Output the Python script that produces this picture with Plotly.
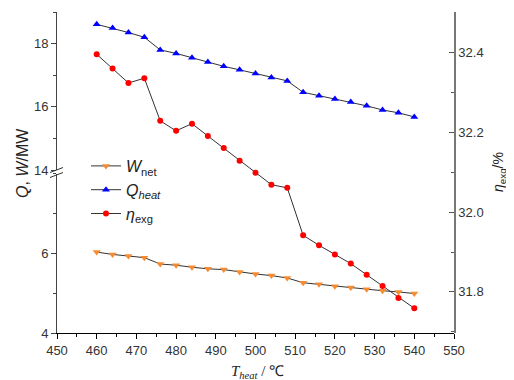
import plotly.graph_objects as go

T_heat = [460, 464, 468, 472, 476, 480, 484, 488, 492, 496, 500,
          504, 508, 512, 516, 520, 524, 528, 532, 536, 540]
W_net = [6.03, 5.97, 5.93, 5.89, 5.73, 5.70, 5.65, 5.61, 5.59, 5.53, 5.48,
         5.44, 5.38, 5.26, 5.22, 5.17, 5.14, 5.10, 5.06, 5.03, 4.99]
Q_heat = [18.61, 18.49, 18.35, 18.20, 17.80, 17.69, 17.55, 17.42, 17.28, 17.17, 17.05,
          16.93, 16.82, 16.46, 16.35, 16.25, 16.15, 16.03, 15.90, 15.81, 15.68]
eta_exg = [32.396, 32.360, 32.324, 32.336, 32.229, 32.204, 32.222, 32.191, 32.161, 32.129, 32.099,
           32.069, 32.061, 31.942, 31.917, 31.894, 31.871, 31.843, 31.815, 31.785, 31.759]

W, H = 514, 380
OFF = 8  # page body margin
L, R, TOP, BOT = 57, 454, 12, 333
PW, PH = R - L, BOT - TOP


def px(x):
    return (x - L) / PW


def py(y):
    return (BOT - y) / PH


LINE = "#333333"
fig = go.Figure()
fig.add_trace(go.Scatter(x=T_heat, y=W_net, mode="lines+markers", name="<i>W</i><sub>net</sub>",
                         line=dict(color=LINE, width=1),
                         marker=dict(symbol="triangle-down", size=7, color="#F58C33"),
                         xaxis="x", yaxis="y"))
fig.add_trace(go.Scatter(x=T_heat, y=Q_heat, mode="lines+markers", name="<i>Q</i><sub><i>heat</i></sub>",
                         line=dict(color=LINE, width=1),
                         marker=dict(symbol="triangle-up", size=7, color="#0000FF"),
                         xaxis="x", yaxis="y2"))
fig.add_trace(go.Scatter(x=T_heat, y=eta_exg, mode="lines+markers", name="<i>η</i><sub>exg</sub>",
                         line=dict(color=LINE, width=1),
                         marker=dict(symbol="circle", size=6, color="#FF0000"),
                         xaxis="x", yaxis="y3"))

tickfont = dict(family="Liberation Sans, Arial", size=13, color="#333333")
lower_top = 173.5
upper_bot = 170

fig.update_layout(
    width=W, height=H,
    margin=dict(l=L - OFF, r=W - (R - OFF), t=TOP - OFF, b=H - (BOT - OFF), autoexpand=False),
    paper_bgcolor="white", plot_bgcolor="rgba(0,0,0,0)",
    showlegend=True,
    legend=dict(x=px(86), y=py(149), xanchor="left", yanchor="top",
                bgcolor="rgba(0,0,0,0)", font=dict(family="Liberation Sans, Arial", size=16, color="#222"),
                itemwidth=30, tracegroupgap=0),
    xaxis=dict(range=[450, 550], domain=[0, 1], anchor="y", showgrid=False, zeroline=False,
               showline=True, linecolor="black", linewidth=1,
               ticks="outside", ticklen=5, tickcolor="black", dtick=10, tick0=450,
               minor=dict(ticks="outside", ticklen=3, dtick=5, tickcolor="black"),
               tickfont=tickfont, automargin=False),
    yaxis=dict(range=[4, 8], domain=[0, py(lower_top)], anchor="x", showgrid=False, zeroline=False,
               showline=True, linecolor="#444", linewidth=1,
               ticks="outside", ticklen=5, tickcolor="#444", dtick=2, tick0=4,
               minor=dict(ticks="outside", ticklen=3, dtick=1, tickcolor="#444"),
               tickvals=[4, 6], tickfont=tickfont, automargin=False),
    yaxis2=dict(range=[14, 19], domain=[py(upper_bot), 1], anchor="x", showgrid=False, zeroline=False,
                showline=True, linecolor="#444", linewidth=1,
                ticks="outside", ticklen=5, tickcolor="#444", dtick=2, tick0=14,
                minor=dict(ticks="outside", ticklen=3, dtick=1, tickcolor="#444"),
                tickfont=tickfont, automargin=False),
    yaxis3=dict(range=[31.697, 32.502], domain=[0, 1], anchor="x", side="right", showgrid=False,
                zeroline=False, showline=True, linecolor="#777", linewidth=1.5,
                ticks="inside", ticklen=5, tickcolor="#555", dtick=0.2, tick0=31.8,
                tickformat=".1f",
                minor=dict(ticks="inside", ticklen=3, dtick=0.1, tickcolor="#555"),
                tickfont=tickfont, automargin=False),
)

# axis break marks
for y0 in (172.5, 177.5):
    fig.add_shape(type="line", xref="paper", yref="paper",
                  x0=px(50), y0=py(y0), x1=px(63), y1=py(y0 - 5),
                  line=dict(color="#333", width=1))

fig.add_annotation(x=px(22), y=py(163), xref="paper", yref="paper", showarrow=False,
                   xanchor="center", yanchor="middle",
                   text="<i>Q</i>, <i>W</i>/MW", textangle=-90,
                   font=dict(family="Liberation Sans, Arial", size=16, color="#222"))
fig.add_annotation(x=px(499), y=py(172), xref="paper", yref="paper", showarrow=False,
                   xanchor="center", yanchor="middle",
                   text="<i>η</i><sub>exg</sub>/%", textangle=-90,
                   font=dict(family="Liberation Sans, Arial", size=14, color="#222"))
fig.add_annotation(x=px(257), y=py(372), xref="paper", yref="paper", showarrow=False,
                   xanchor="center", yanchor="middle",
                   text="<i>T</i><sub><i>heat</i></sub> / ℃",
                   font=dict(family="Liberation Serif, Times New Roman", size=15, color="#222"))

fig.write_html("out.html")
